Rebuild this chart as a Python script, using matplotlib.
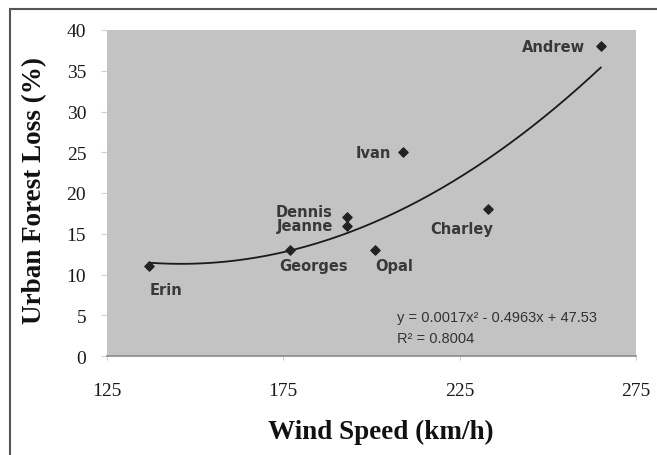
import matplotlib
matplotlib.use("Agg")
import matplotlib.pyplot as plt
from matplotlib.patches import Rectangle
import numpy as np

names = ["Erin", "Georges", "Dennis", "Jeanne", "Opal", "Ivan", "Charley", "Andrew"]
wind = [137, 177, 193, 193, 201, 209, 233, 265]
loss = [11, 13, 17, 16, 13, 25, 18, 38]
coef = [0.0017, -0.4963, 47.53]
eq_text = "y = 0.0017x² - 0.4963x + 47.53"
r2_text = "R² = 0.8004"
xticks = [125, 175, 225, 275]
yticks = [0, 5, 10, 15, 20, 25, 30, 35, 40]

# label offsets in points (dx, dy, ha)
offsets = {
    "Erin": (0, -17, "left"),
    "Georges": (-8, -11, "left"),
    "Dennis": (-10, 4, "right"),
    "Jeanne": (-10, 0, "right"),
    "Opal": (0, -11, "left"),
    "Ivan": (-9, 0, "right"),
    "Charley": (-19, -14, "center"),
    "Andrew": (-11, 0, "right"),
}

W, H = 657, 456
fig = plt.figure(figsize=(W / 100, H / 100), dpi=100)
fig.patch.set_facecolor("white")

# outer frame
fig.add_artist(Rectangle((10 / W, -0.05), 1.2, 1 - 10 / H + 0.05,
                         transform=fig.transFigure, fill=False,
                         edgecolor="#555555", linewidth=1.5))

ax = fig.add_axes([107 / W, 1 - 357 / H, 529 / W, 326 / H])
ax.set_facecolor("#c3c3c3")
ax.set_xlim(125, 275)
ax.set_ylim(0, 40)
for s in ["top", "right", "left"]:
    ax.spines[s].set_visible(False)
ax.spines["bottom"].set_color("#8a8a8a")
ax.spines["bottom"].set_linewidth(1.2)

ax.set_xticks(xticks)
ax.set_yticks(yticks)
ax.set_xticklabels([str(t) for t in xticks], fontfamily="Liberation Serif", fontsize=14, color="#1a1a1a")
ax.set_yticklabels([str(t) for t in yticks], fontfamily="Liberation Serif", fontsize=14, color="#1a1a1a")
ax.tick_params(axis="y", length=4, color="#d0d0d0", pad=11)
ax.tick_params(axis="x", length=3, color="#d0d0d0", pad=16)

# trend line
xs = np.linspace(min(wind), max(wind), 200)
ys = np.polyval(coef, xs)
ax.plot(xs, ys, color="#1a1a1a", linewidth=1.3, zorder=2)

ax.scatter(wind, loss, marker="D", s=22, color="#222222", zorder=3)

for n, x, y in zip(names, wind, loss):
    dx, dy, ha = offsets[n]
    ax.annotate(n, (x, y), xytext=(dx, dy), textcoords="offset points",
                ha=ha, va="center", fontsize=10.5, fontweight="bold",
                fontfamily="DejaVu Sans", color="#383838")

fig.text(397 / W, 1 - 318 / H, eq_text, fontsize=10.5,
         fontfamily="Liberation Sans", color="#333333", va="center", ha="left")
fig.text(397 / W, 1 - 339 / H, r2_text, fontsize=10.5,
         fontfamily="Liberation Sans", color="#333333", va="center", ha="left")

fig.text(381 / W, 1 - 432 / H, "Wind Speed (km/h)", fontfamily="Liberation Serif",
         fontweight="bold", fontsize=19.5, ha="center", va="center", color="#111111")
fig.text(35 / W, 1 - 191 / H, "Urban Forest Loss (%)", fontfamily="Liberation Serif",
         fontweight="bold", fontsize=19.5, ha="center", va="center", rotation=90, color="#111111")

fig.savefig("out.png", dpi=100)
